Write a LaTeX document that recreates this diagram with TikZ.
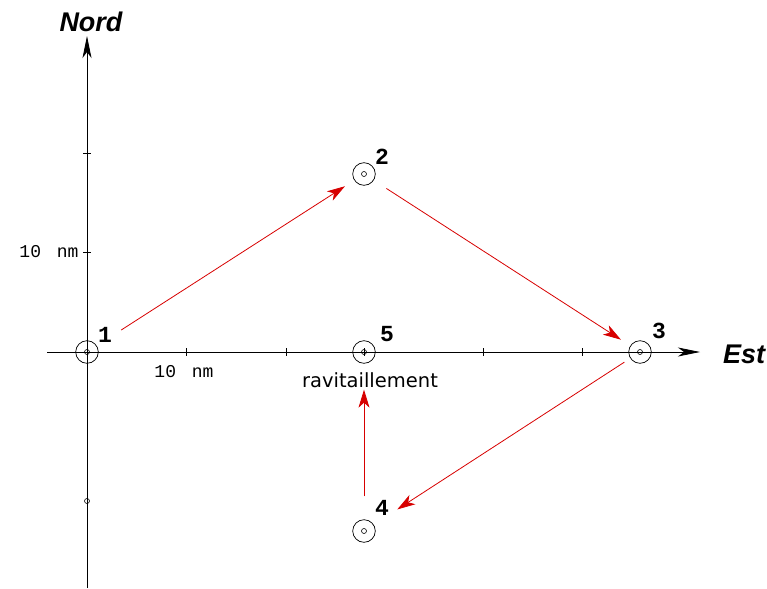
\documentclass[tikz,border=0pt]{standalone}
\usepackage{fontspec}
\setmainfont{Liberation Sans}
\newfontfamily\monofont{Liberation Mono}
\newfontfamily\widesans{DejaVu Sans}
\usetikzlibrary{arrows.meta}
\definecolor{arrred}{RGB}{215,0,0}
\tikzset{
  axis/.style={line width=0.9pt, -{Stealth[length=22pt,width=9pt,inset=6pt]}},
  tickmark/.style={line width=0.7pt},
  pointnode/.style={circle, draw, line width=0.7pt, minimum size=22.6pt, inner sep=0pt},
  inner/.style={circle, draw, line width=0.6pt, minimum size=5pt, inner sep=0pt},
  ptlabel/.style={font=\monofont\bfseries\fontsize{23}{23}\selectfont},
  axlabel/.style={font=\bfseries\itshape\fontsize{27}{27}\selectfont},
  unitlabel/.style={font=\monofont\fontsize{18}{18}\selectfont},
  route/.style={arrred, line width=0.8pt, -{Stealth[length=18pt,width=11pt,inset=5pt]}},
}
\begin{document}
\begin{tikzpicture}[x=1pt,y=-1pt]
\useasboundingbox (0,0) rectangle (767,588);
% axes
\coordinate (ybot) at (87,588);
\coordinate (ytop) at (87,36);
\coordinate (xleft) at (47,352);
\coordinate (xright) at (700,352);
\draw[axis] (ybot) -- (ytop);
\draw[axis] (xleft) -- (xright);
% ticks
\foreach \yy in {153,252} \draw[tickmark] (83,\yy) -- (91,\yy);
\foreach \xx in {186,286,364,483,582} \draw[tickmark] (\xx,348) -- (\xx,356);
\node[inner, minimum size=5pt] (ymark) at (87,501) {};
% labels
\node[axlabel] (nord) at (91,22) {Nord};
\node[axlabel] (est) at (744,354) {Est};
\node[unitlabel, anchor=east] (ylab) at (82,252) {10\kern5pt\ nm};
\node[unitlabel] (xlab) at (184,372) {10\kern5pt\ nm};
% points
\node[pointnode] (p1) at (87,352) {};
\node[pointnode] (p2) at (364,174) {};
\node[pointnode] (p3) at (640,352) {};
\node[pointnode] (p4) at (364,531) {};
\node[pointnode] (p5) at (364,352) {};
\foreach \p in {p1,p2,p3,p4,p5} \node[inner] at (\p) {};
\node[ptlabel] (l1) at (105,335) {1};
\node[ptlabel] (l2) at (382,157) {2};
\node[ptlabel] (l3) at (659,331) {3};
\node[ptlabel] (l4) at (382,508) {4};
\node[ptlabel] (l5) at (387,334) {5};
\node[font=\widesans\fontsize{19.5}{19.5}\selectfont] (rav) at (370,380) {ravitaillement};
% route
\draw[route, shorten <=29pt, shorten >=11pt] (p1) -- (p2);
\draw[route, shorten <=15pt, shorten >=11pt] (p2) -- (p3);
\draw[route, shorten <=7pt, shorten >=28pt] (p3) -- (p4);
\draw[route, shorten <=23pt, shorten >=26pt] (p4) -- (p5);
\end{tikzpicture}
\end{document}
